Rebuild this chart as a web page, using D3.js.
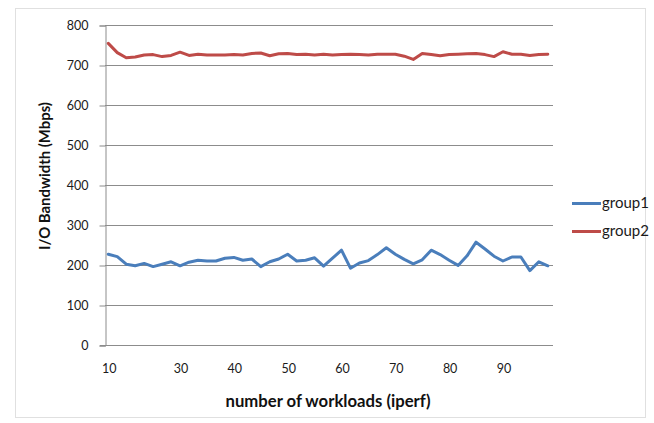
<!DOCTYPE html>
<html>
<head>
<meta charset="utf-8">
<script src="https://cdn.jsdelivr.net/npm/d3@7"></script>
<style>
  html, body { margin: 0; padding: 0; background: #fff; }
  svg { display: block; font-family: Lato, "Open Sans", "Liberation Sans", sans-serif; }
</style>
</head>
<body>
<svg id="chart" width="654" height="423"></svg>
<script>
// Measured I/O bandwidth (Mbps) for each workload step
const group1 = [227, 221, 202, 198, 204, 196, 202, 208, 198, 207,
                212, 210, 210, 217, 219, 212, 215, 196, 208, 215,
                227, 210, 212, 218, 197, 217, 237, 192, 205, 211,
                226, 243, 227, 214, 203, 213, 237, 226, 212, 199,
                223, 257, 240, 222, 210, 220, 220, 186, 208, 198];
const group2 = [754, 731, 718, 720, 725, 726, 721, 724, 732, 724,
                727, 725, 725, 725, 726, 725, 729, 730, 723, 728,
                729, 726, 727, 725, 727, 725, 726, 727, 726, 725,
                727, 727, 727, 722, 714, 729, 726, 723, 726, 727,
                728, 729, 726, 721, 733, 727, 727, 724, 726, 727];
const seriesNames = ["group1", "group2"];
const seriesColors = ["#4a7ebb", "#be4b48"];
// Category axis labels and the sample index each one sits under
const xTickLabels = ["10", "30", "40", "50", "60", "70", "80", "90"];
const xTickIndex = [0, 8, 14, 20, 26, 32, 38, 44];
const yTicks = [0, 100, 200, 300, 400, 500, 600, 700, 800];

const svg = d3.select("#chart");

// scale a text element's font size so the string spans the given width
function fitWidth(sel, width) {
  const node = sel.node();
  const size = parseFloat(sel.attr("font-size"));
  const len = node.getComputedTextLength();
  if (len > 0) sel.attr("font-size", (size * width / len).toFixed(2));
  return sel;
}

// outer chart frame
svg.append("rect")
  .attr("x", 15.5).attr("y", 8.5)
  .attr("width", 630).attr("height", 409)
  .attr("fill", "none").attr("stroke", "#e0e0e0").attr("stroke-width", 1);

const plot = { left: 105, right: 553, top: 25, bottom: 345 };
const n = group1.length;

const x = d3.scalePoint()
  .domain(d3.range(n))
  .range([108.3, 547.8]);
const y = d3.scaleLinear()
  .domain([0, 800])
  .range([plot.bottom, plot.top]);

// horizontal gridlines
svg.append("g")
  .selectAll("line")
  .data(yTicks.filter(d => d > 0))
  .join("line")
  .attr("x1", plot.left).attr("x2", plot.right)
  .attr("y1", d => Math.round(y(d)) + 0.5).attr("y2", d => Math.round(y(d)) + 0.5)
  .attr("stroke", "#8c8c8c").attr("stroke-width", 1);

// y axis
const yAxis = svg.append("g")
  .attr("transform", `translate(${plot.left + 0.5},0.5)`)
  .call(d3.axisLeft(y).tickValues(yTicks).tickSize(6).tickPadding(11).tickFormat(d3.format("d")));
yAxis.select(".domain").attr("stroke", "#8c8c8c");
yAxis.selectAll(".tick line").attr("stroke", "#8c8c8c");
yAxis.selectAll("text")
  .attr("font-size", 12.5).attr("fill", "#1a1a1a")
  .attr("font-family", "Lato, 'Open Sans', sans-serif");

// x axis line
svg.append("line")
  .attr("x1", plot.left - 5).attr("x2", plot.right)
  .attr("y1", plot.bottom + 0.5).attr("y2", plot.bottom + 0.5)
  .attr("stroke", "#8c8c8c");

// x tick labels
svg.append("g")
  .selectAll("text")
  .data(xTickLabels)
  .join("text")
  .attr("x", (d, i) => x(xTickIndex[i]) + 1)
  .attr("y", 373)
  .attr("text-anchor", "middle")
  .attr("font-size", 12.5).attr("fill", "#1a1a1a")
  .text(d => d);

// axis titles
fitWidth(svg.append("text")
  .attr("x", 328).attr("y", 407)
  .attr("text-anchor", "middle")
  .attr("font-size", 14).attr("font-weight", "bold").attr("fill", "#111")
  .text("number of workloads (iperf)"), 205);

fitWidth(svg.append("text")
  .attr("transform", "translate(50,176) rotate(-90)")
  .attr("text-anchor", "middle")
  .attr("font-size", 14).attr("font-weight", "bold").attr("fill", "#111")
  .text("I/O Bandwidth (Mbps)"), 148);

// series lines
const line = d3.line()
  .x((d, i) => x(i))
  .y(d => y(d));

[group1, group2].forEach((data, k) => {
  svg.append("path")
    .datum(data)
    .attr("d", line)
    .attr("fill", "none")
    .attr("stroke", seriesColors[k])
    .attr("stroke-width", 3)
    .attr("stroke-linejoin", "round")
    .attr("stroke-linecap", "round");
});

// legend
const legend = svg.append("g");
seriesNames.forEach((name, k) => {
  const ly = 203.5 + k * 28;
  legend.append("line")
    .attr("x1", 572).attr("x2", 601)
    .attr("y1", ly).attr("y2", ly)
    .attr("stroke", seriesColors[k]).attr("stroke-width", 3);
  fitWidth(legend.append("text")
    .attr("x", 602).attr("y", ly + 4.5)
    .attr("font-size", 14).attr("fill", "#1a1a1a")
    .text(name), 47);
});
</script>
</body>
</html>
